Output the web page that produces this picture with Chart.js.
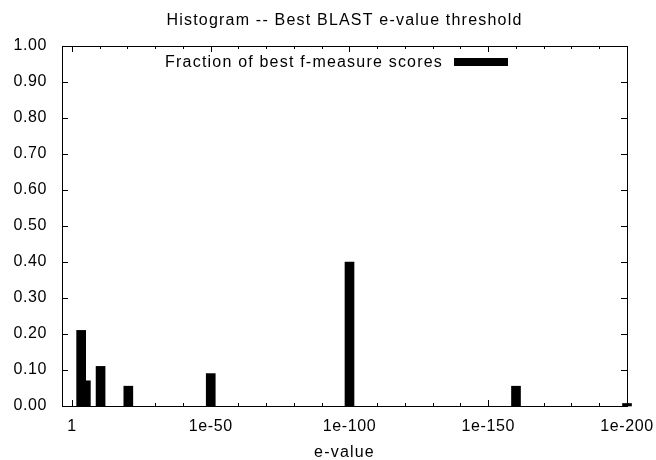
<!DOCTYPE html>
<html>
<head>
<meta charset="utf-8">
<script src="https://cdn.jsdelivr.net/npm/chart.js@4.4.0/dist/chart.umd.min.js"></script>
<style>
  html, body { margin: 0; padding: 0; background: #fff; }
</style>
</head>
<body>
<canvas id="chart" width="656" height="460"></canvas>
<script>
// --- Data (x = exponent of the e-value, i.e. 1e-x) ---
const evalueExp = [3.3, 5, 10.3, 20.3, 50, 100, 160, 200];
const fraction = [0.21, 0.07, 0.11, 0.055, 0.09, 0.40, 0.055, 0.007];
const xTickLabels = { 0: '1', 50: '1e-50', 100: '1e-100', 150: '1e-150', 200: '1e-200' };
const seriesLabel = 'Fraction of best f-measure scores';
const chartTitle = 'Histogram -- Best BLAST e-value threshold';
const xAxisTitle = 'e-value';

const FONT = '"Liberation Sans", Helvetica, Arial, sans-serif';

// gnuplot-like frame, inward ticks, title and key inside the plot
const framePlugin = {
    id: 'frame',
    beforeDraw(chart) {
        // gnuplot text is a bit wider than Liberation Sans
        chart.ctx.letterSpacing = '0.6px';
    },
    afterDatasetsDraw(chart) {
        const { ctx, chartArea: a, scales } = chart;
        ctx.save();
        ctx.strokeStyle = '#000';
        ctx.lineWidth = 1;
        ctx.beginPath();

        // x ticks, bottom and top (major every 50, minor every 10)
        for (let v = 0; v <= 200; v += 10) {
            const px = Math.round(scales.x.getPixelForValue(v)) + 0.5;
            const len = v % 50 === 0 ? 6 : 3;
            ctx.moveTo(px, a.bottom); ctx.lineTo(px, a.bottom - len);
            ctx.moveTo(px, a.top); ctx.lineTo(px, a.top + len);
        }
        // y ticks, left and right
        for (let i = 0; i <= 10; i++) {
            const py = Math.round(scales.y.getPixelForValue(i / 10)) + 0.5;
            ctx.moveTo(a.left, py); ctx.lineTo(a.left + 6, py);
            ctx.moveTo(a.right, py); ctx.lineTo(a.right - 6, py);
        }
        ctx.stroke();

        ctx.strokeRect(Math.round(a.left) + 0.5, Math.round(a.top) + 0.5,
            Math.round(a.right - a.left), Math.round(a.bottom - a.top));

        // title, axis title and key
        const cx = (a.left + a.right) / 2;
        ctx.fillStyle = '#000';
        ctx.font = '16px ' + FONT;
        ctx.letterSpacing = '1.2px';
        ctx.textBaseline = 'alphabetic';
        ctx.textAlign = 'center';
        ctx.fillText(chartTitle, cx, a.top - 21);
        ctx.fillText(xAxisTitle, cx, a.bottom + 51);

        ctx.textAlign = 'right';
        ctx.fillText(seriesLabel, a.right - 184, a.top + 21);
        ctx.fillRect(a.right - 173, a.top + 12, 54, 8);
        ctx.restore();
    }
};

const chart = new Chart(document.getElementById('chart'), {
    type: 'bar',
    data: {
        datasets: [{
            label: seriesLabel,
            data: evalueExp.map((x, i) => ({ x: x, y: fraction[i] })),
            backgroundColor: '#000',
            borderWidth: 0,
            barThickness: 9,
            grouped: false,
            clip: false
        }]
    },
    options: {
        responsive: false,
        animation: false,
        layout: { padding: { left: 0, right: 29, top: 46, bottom: 0 } },
        plugins: {
            legend: { display: false },
            tooltip: { enabled: false },
            title: { display: false }
        },
        scales: {
            x: {
                type: 'linear',
                offset: false,
                min: -3.6,
                max: 200,
                grid: { display: false, drawTicks: false },
                border: { display: false },
                ticks: {
                    stepSize: 10,
                    includeBounds: false,
                    autoSkip: false,
                    maxRotation: 0,
                    padding: 11,
                    color: '#000',
                    font: { family: FONT, size: 16 },
                    callback: v => (xTickLabels[v] !== undefined ? xTickLabels[v] : '')
                },
                afterFit: s => {
                    s.height = 54;
                    s.paddingLeft = 0;
                    s.paddingRight = 0;
                }
            },
            y: {
                min: 0,
                max: 1,
                grid: { display: false, drawTicks: false },
                border: { display: false },
                ticks: {
                    stepSize: 0.1,
                    padding: 15,
                    color: '#000',
                    font: { family: FONT, size: 16 },
                    callback: v => v.toFixed(2)
                },
                afterFit: s => { s.width = 62; }
            }
        }
    },
    plugins: [framePlugin]
});
</script>
</body>
</html>
